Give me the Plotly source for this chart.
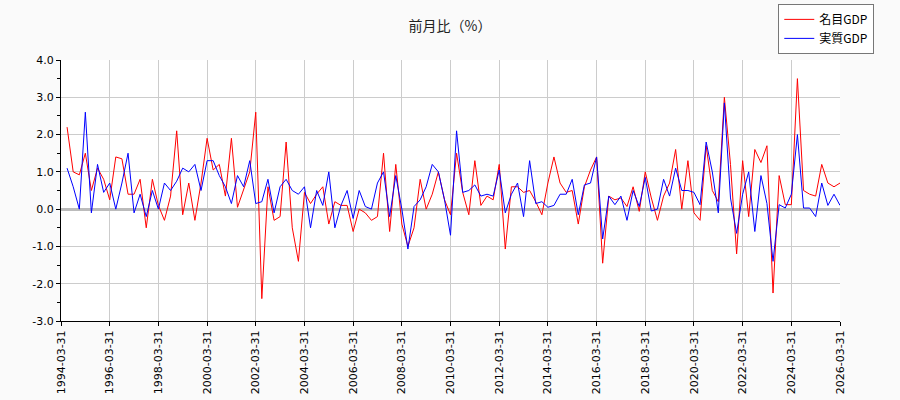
import pandas as pd
import plotly.graph_objects as go

# 四半期末の日付 (1994-06-30 〜 2026-03-31)
dates = pd.date_range('1994-06-30', periods=128, freq='QE')

nominal_gdp = [
    2.2, 1.0, 0.92, 1.5, 0.5, 1.1, 0.8, 0.25, 1.4, 1.35, 0.4, 0.4, 0.8, -0.5, 0.8, 0.1,
    -0.3, 0.35, 2.1, -0.15, 0.7, -0.3, 0.7, 1.9, 1.05, 1.2, 0.35, 1.9, 0.05, 0.5, 1.0, 2.6,
    -2.4, 0.6, -0.3, -0.2, 1.8, -0.5, -1.4, 0.45, 0.15, 0.4, 0.6, -0.4, 0.2, 0.1, 0.1, -0.6,
    0.0, -0.1, -0.3, -0.2, 1.5, -0.6, 1.2, -0.4, -1.0, -0.5, 0.8, 0.0, 0.4, 1.0, 0.25, -0.15,
    1.5, 0.45, -0.15, 1.3, 0.1, 0.35, 0.25, 1.2, -1.07, 0.6, 0.6, 0.45, 0.5, 0.2, -0.15, 0.7,
    1.4, 0.7, 0.45, 0.5, -0.4, 0.6, 1.05, 1.4, -1.45, 0.35, 0.25, 0.3, 0.07, 0.6, -0.06, 1.0,
    0.3, -0.3, 0.35, 0.7, 1.6, 0.0, 1.3, -0.1, -0.3, 1.7, 0.5, 0.2, 3.0, 1.2, -1.2, 1.3,
    -0.2, 1.6, 1.25, 1.7, -2.25, 0.9, 0.12, 0.12, 3.5, 0.5, 0.4, 0.35, 1.2, 0.7, 0.6, 0.7,
]

real_gdp = [
    1.1, 0.6, 0.0, 2.6, -0.1, 1.2, 0.45, 0.7, 0.0, 0.7, 1.5, -0.1, 0.4, -0.2, 0.5, 0.0,
    0.7, 0.5, 0.75, 1.1, 1.0, 1.2, 0.5, 1.3, 1.3, 0.9, 0.6, 0.15, 0.9, 0.6, 1.3, 0.15,
    0.2, 0.8, -0.1, 0.6, 0.8, 0.5, 0.4, 0.6, -0.5, 0.5, 0.1, 1.0, -0.5, 0.1, 0.5, -0.25,
    0.5, 0.07, 0.0, 0.7, 1.0, -0.2, 0.9, 0.0, -1.07, 0.07, 0.25, 0.6, 1.2, 1.0, 0.25, -0.7,
    2.1, 0.45, 0.5, 0.65, 0.35, 0.4, 0.35, 1.05, -0.1, 0.4, 0.7, -0.2, 1.3, 0.15, 0.2, 0.05,
    0.1, 0.4, 0.4, 0.8, -0.15, 0.65, 0.7, 1.4, -0.8, 0.35, 0.12, 0.35, -0.3, 0.5, 0.07, 0.85,
    -0.05, 0.0, 0.8, 0.35, 1.1, 0.5, 0.5, 0.45, 0.12, 1.8, 1.0, -0.1, 2.85, 0.3, -0.65, 0.4,
    1.0, -0.6, 0.9, 0.15, -1.4, 0.12, 0.03, 0.4, 2.0, 0.03, 0.03, -0.2, 0.7, 0.1, 0.4, 0.1,
]

# 2年ごとの目盛り
tick_dates = ['%d-03-31' % y for y in range(1994, 2027, 2)]
y_ticks = [-3, -2, -1, 0, 1, 2, 3, 4]
y_labels = ['%.1f' % v for v in y_ticks]  # ASCIIのマイナス記号

fig = go.Figure()

fig.add_trace(go.Scatter(x=dates, y=nominal_gdp, name='名目GDP',
                         mode='lines', line=dict(color='red', width=1)))
fig.add_trace(go.Scatter(x=dates, y=real_gdp, name='実質GDP',
                         mode='lines', line=dict(color='blue', width=1)))

fig.update_layout(
    width=900, height=400,
    margin=dict(l=61, r=60, t=60, b=79, autoexpand=False),
    paper_bgcolor='#fafafa',
    plot_bgcolor='white',
    font=dict(family='DejaVu Sans, sans-serif', size=11, color='black'),
    title=dict(text='前月比（%）', x=0.5, xanchor='center', y=0.935, yanchor='middle',
               font=dict(family='Noto Sans CJK JP', size=14, color='#222')),
    showlegend=True,
    legend=dict(x=1.044, y=1.215, xanchor='right', yanchor='top',
                bgcolor='white', bordercolor='#777', borderwidth=1,
                font=dict(family='Noto Sans CJK JP', size=12),
                tracegroupgap=0),
)

fig.update_xaxes(
    type='date',
    range=['1994-03-31', '2026-03-31'],
    tickvals=tick_dates, ticktext=tick_dates,
    tickangle=-90,
    showline=True, linecolor='black', linewidth=1,
    ticks='outside', ticklen=4, tickcolor='black',
    showgrid=True, gridcolor='#cccccc', gridwidth=1,
    zeroline=False,
)

fig.update_yaxes(
    range=[-3, 4], tickvals=y_ticks, ticktext=y_labels,
    showline=True, linecolor='black', linewidth=1,
    ticks='outside', ticklen=4, tickcolor='black',
    showgrid=True, gridcolor='#cccccc', gridwidth=1,
    zeroline=True, zerolinecolor='#bbbbbb', zerolinewidth=3,
    minor=dict(dtick=0.5, ticks='outside', ticklen=3, tickcolor='black', showgrid=False),
)

# ページの余白をなくす、モードバーは出さない
fig.write_html("out.html", config={'displayModeBar': False},
               post_script="document.body.style.margin='0';")
